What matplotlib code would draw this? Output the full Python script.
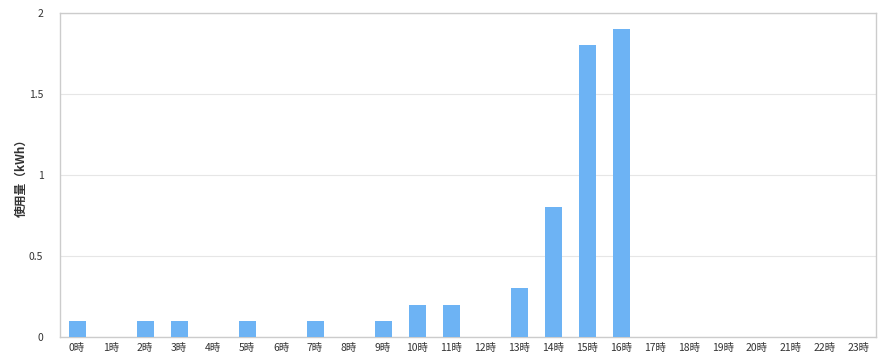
import numpy as np
import matplotlib.pyplot as plt

plt.rcParams['font.family'] = ['Noto Sans CJK JP', 'DejaVu Sans']

# Data
hours = [f"{h}時" for h in range(24)]
usage = [0.1, 0, 0.1, 0.1, 0, 0.1, 0, 0.1, 0, 0.1, 0.2, 0.2,
         0, 0.3, 0.8, 1.8, 1.9, 0, 0, 0, 0, 0, 0, 0]
y_ticks = [0, 0.5, 1, 1.5, 2]
y_ticklabels = ["0", "0.5", "1", "1.5", "2"]

fig = plt.figure(figsize=(8.85, 3.59), dpi=100)
ax = fig.add_axes([60 / 885, 22 / 359, 816 / 885, 324 / 359])

x = np.arange(len(hours))
ax.bar(x, usage, width=0.5, color="#6db3f4", zorder=3)

ax.set_xlim(-0.5, 23.5)
ax.set_ylim(0, 2)
ax.set_xticks(x)
ax.set_xticklabels(hours, fontsize=7.5, color="#333333")
ax.set_yticks(y_ticks)
ax.set_yticklabels(y_ticklabels, fontsize=7.5, color="#333333")
ax.tick_params(length=0, pad=4)
ax.tick_params(axis="y", pad=12)

ax.grid(axis="y", color="#e6e6e6", linewidth=0.8, zorder=0)
for s in ax.spines.values():
    s.set_color("#cccccc")
    s.set_linewidth(1)

ax.set_ylabel("使用量（kWh）", fontsize=8.5, fontweight="bold", color="#333333", labelpad=1)

plt.savefig("out.png", dpi=100)
